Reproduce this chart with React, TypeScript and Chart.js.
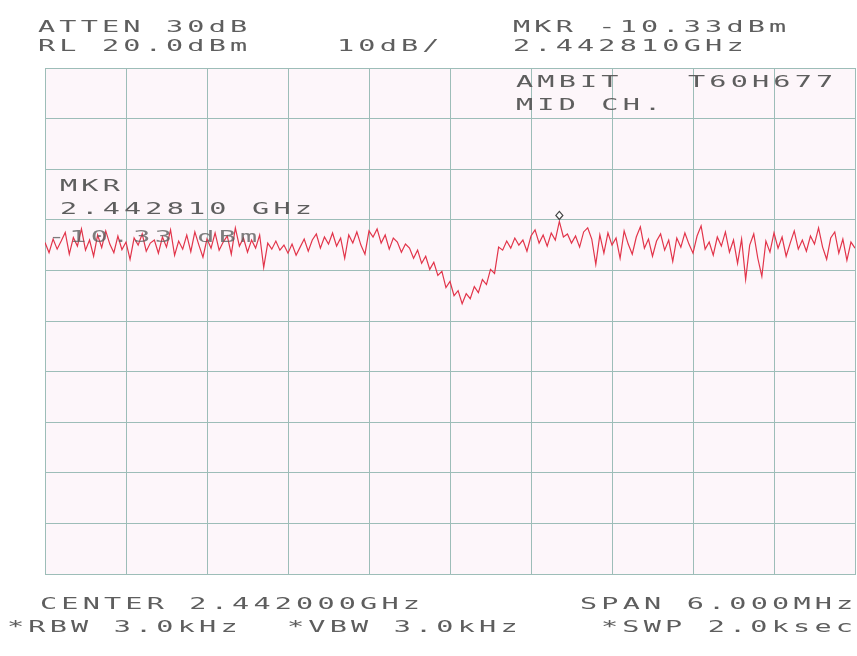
import React, { useEffect, useRef } from "react";
import { Chart, registerables } from "chart.js";

Chart.register(...registerables);

// Sweep: 201 points across SPAN 6.000 MHz centred on 2.442000 GHz
const SWEEP_POINTS = 201;
const REF_LEVEL = 20; // dBm
const DB_PER_DIV = 10;
const DIVS = 10;
const MARKER_INDEX = 127; // 2.442810 GHz
const MARKER_LEVEL = -10.33;

// Trace amplitude (dBm)
const traceLeft = [
  -14.5, -16.5, -13.8, -15.8, -14.2, -12.5, -16.8, -13.5, -15.2, -11.8,
  -16.0, -14.0, -17.2, -13.0, -15.5, -12.2, -14.8, -16.5, -13.2, -15.9,
  -14.4, -17.8, -13.6, -15.0, -12.8, -16.2, -14.6, -14.0, -16.6, -13.4,
  -15.4, -12.0, -17.0, -14.2, -15.8, -13.0, -16.3, -12.4, -15.0, -17.4,
  -13.8, -15.6, -12.6, -16.0, -14.4, -13.2, -16.8, -11.6, -15.2, -13.6,
];
const traceMid = [
  -16.4, -14.0, -15.6, -13.0, -19.4, -14.6, -15.8, -14.2, -16.0, -15.0,
  -16.6, -14.8, -17.0, -15.4, -13.8, -16.2, -14.0, -12.8, -15.6, -13.4,
  -14.8, -12.6, -15.2, -13.6, -17.6, -13.0, -14.6, -12.4, -15.0, -16.8,
  -12.2, -13.4, -11.8, -14.6, -13.0, -15.8, -13.6, -14.4, -16.4, -14.8,
];
const traceDip = [
  -15.6, -17.6, -16.0, -18.6, -17.2, -19.8, -18.4, -21.0, -20.2, -23.4,
  -22.2, -25.0, -24.0, -26.6, -24.6, -25.6, -23.2, -24.4, -21.8, -22.8,
  -19.8, -20.6, -15.4, -16.0, -14.2, -15.6, -13.6, -15.0, -14.0, -16.2,
  -13.2, -12.0, -14.6, -13.0, -15.2, -12.6, -14.0,
];
const traceRight = [
  -10.33, -13.4, -12.8, -14.6, -13.2, -15.4, -12.4, -11.6, -13.8, -18.8,
  -13.0, -16.6, -12.6, -15.0, -13.6, -17.6, -12.2, -14.8, -16.8, -13.4,
  -11.4, -15.6, -13.8, -17.2, -14.2, -12.8, -16.0, -14.0, -18.2, -13.6,
  -15.4, -12.6, -14.8, -16.6, -13.2, -11.2, -15.8, -14.4, -17.0, -13.4,
  -15.2, -12.4, -16.4, -14.0, -18.6, -13.8, -21.8, -15.0, -12.8, -17.6,
  -21.2, -14.2, -16.4, -12.6, -15.6, -13.4, -17.2, -14.6, -12.2, -15.8,
  -14.0, -16.2, -13.2, -14.8, -11.6, -15.4, -17.8, -13.6, -12.4, -16.6,
  -13.8, -18.0, -14.4, -15.6,
];
const trace = [...traceLeft, ...traceMid, ...traceDip, ...traceRight];

// Annotation texts
const headerLeft = ["ATTEN 30dB", "RL 20.0dBm"];
const scaleLabel = "10dB/";
const headerRight = ["MKR -10.33dBm", "2.442810GHz"];
const titleLeft = "AMBIT";
const titleRight = "T60H677";
const subTitle = "MID CH.";
const markerBlock = ["MKR", "2.442810 GHz", "-10.33 dBm"];
const footerCenter = "CENTER 2.442000GHz";
const footerSpan = "SPAN 6.000MHz";
const footerBW = ["*RBW 3.0kHz", "*VBW 3.0kHz", "*SWP 2.0ksec"];

const TEXT_COLOR = "#5e5e5e";
const GRID_COLOR = "#9dbdb8";
const TRACE_COLOR = "#e2344a";

function drawPlotterText(ctx: CanvasRenderingContext2D, text: string, x: number, baseline: number) {
  ctx.save();
  ctx.translate(x, baseline);
  ctx.scale(1.9, 1);
  (ctx as any).letterSpacing = "2.2px";
  ctx.fillText(text, 0, 0);
  ctx.restore();
}

const annotationsPlugin = {
  id: "annotations",
  beforeDraw(chart: any) {
    const { ctx, chartArea } = chart;
    ctx.save();
    ctx.fillStyle = "#ffffff";
    ctx.fillRect(0, 0, chart.width, chart.height);
    ctx.fillStyle = "#fdf6fa";
    ctx.fillRect(chartArea.left, chartArea.top, chartArea.right - chartArea.left, chartArea.bottom - chartArea.top);
    ctx.restore();
  },
  afterDatasetsDraw(chart: any) {
    const { ctx } = chart;
    const xs = chart.scales.x;
    const ys = chart.scales.y;
    // marker diamond
    const mx = xs.getPixelForValue(MARKER_INDEX);
    const my = ys.getPixelForValue(MARKER_LEVEL) - 6;
    ctx.save();
    ctx.strokeStyle = "#444";
    ctx.fillStyle = "#ffffff";
    ctx.lineWidth = 1.2;
    ctx.beginPath();
    ctx.moveTo(mx, my - 4);
    ctx.lineTo(mx + 3.5, my);
    ctx.lineTo(mx, my + 4);
    ctx.lineTo(mx - 3.5, my);
    ctx.closePath();
    ctx.fill();
    ctx.stroke();
    ctx.restore();
  },
  afterDraw(chart: any) {
    const { ctx } = chart;
    ctx.save();
    ctx.fillStyle = TEXT_COLOR;
    ctx.font = "15px 'DejaVu Sans Mono'";
    ctx.textBaseline = "alphabetic";
    drawPlotterText(ctx, headerLeft[0], 38, 32);
    drawPlotterText(ctx, headerLeft[1], 38, 51);
    drawPlotterText(ctx, scaleLabel, 337, 51);
    drawPlotterText(ctx, headerRight[0], 513, 32);
    drawPlotterText(ctx, headerRight[1], 513, 51);
    drawPlotterText(ctx, titleLeft, 516, 87);
    drawPlotterText(ctx, titleRight, 688, 87);
    drawPlotterText(ctx, subTitle, 516, 110);
    drawPlotterText(ctx, markerBlock[0], 60, 191);
    drawPlotterText(ctx, markerBlock[1], 60, 214);
    ctx.globalAlpha = 0.8;
    drawPlotterText(ctx, markerBlock[2], 48, 242);
    ctx.globalAlpha = 1;
    drawPlotterText(ctx, footerCenter, 40, 609);
    drawPlotterText(ctx, footerSpan, 580, 609);
    drawPlotterText(ctx, footerBW[0], 7, 632);
    drawPlotterText(ctx, footerBW[1], 287, 632);
    drawPlotterText(ctx, footerBW[2], 601, 632);
    ctx.restore();
  },
};

export default function App() {
  const canvasRef = useRef<HTMLCanvasElement | null>(null);

  useEffect(() => {
    const canvas = canvasRef.current;
    if (!canvas) return;
    const points = trace.map((v, i) => ({ x: i, y: v }));
    const chart = new Chart(canvas, {
      type: "line",
      data: {
        datasets: [
          {
            data: points,
            borderColor: TRACE_COLOR,
            borderWidth: 1.2,
            pointRadius: 0,
            tension: 0,
            fill: false,
          },
        ],
      },
      options: {
        animation: false,
        responsive: false,
        devicePixelRatio: 1,
        layout: { padding: { left: 45, right: 2, top: 68, bottom: 82 } },
        plugins: { legend: { display: false }, tooltip: { enabled: false } },
        scales: {
          x: {
            type: "linear",
            min: 0,
            max: SWEEP_POINTS - 1,
            ticks: { display: false, stepSize: (SWEEP_POINTS - 1) / DIVS },
            grid: { color: GRID_COLOR, lineWidth: 1, drawTicks: false },
            border: { display: true, color: GRID_COLOR },
          },
          y: {
            type: "linear",
            min: REF_LEVEL - DB_PER_DIV * DIVS,
            max: REF_LEVEL,
            ticks: { display: false, stepSize: DB_PER_DIV },
            grid: { color: GRID_COLOR, lineWidth: 1, drawTicks: false },
            border: { display: true, color: GRID_COLOR },
          },
        },
      },
      plugins: [annotationsPlugin],
    });
    return () => chart.destroy();
  }, []);

  return (
    <div style={{ position: "absolute", left: 0, top: 0, width: 857, height: 656, background: "#fff" }}>
      <canvas ref={canvasRef} width={857} height={656} style={{ display: "block" }} />
    </div>
  );
}
